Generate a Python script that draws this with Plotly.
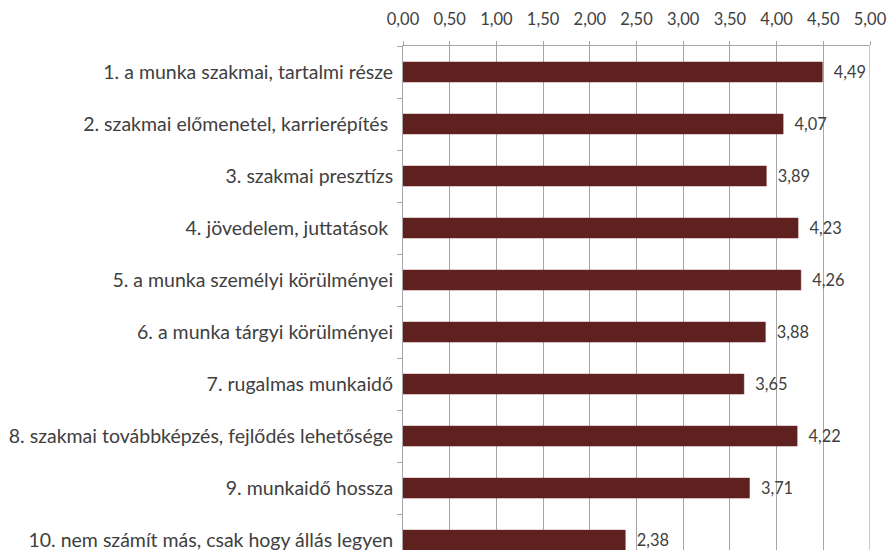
import plotly.graph_objects as go

categories = [
    "1. a munka szakmai, tartalmi része",
    "2. szakmai előmenetel, karrierépítés\u00a0",
    "3. szakmai presztízs",
    "4. jövedelem, juttatások\u00a0",
    "5. a munka személyi körülményei",
    "6. a munka tárgyi körülményei",
    "7. rugalmas munkaidő",
    "8. szakmai továbbképzés, fejlődés lehetősége",
    "9. munkaidő hossza",
    "10. nem számít más, csak hogy állás legyen",
]
values = [4.49, 4.07, 3.89, 4.23, 4.26, 3.88, 3.65, 4.22, 3.71, 2.38]
x_ticks = [0, 0.5, 1, 1.5, 2, 2.5, 3, 3.5, 4, 4.5, 5]

labels = [f"{v:.2f}".replace(".", ",") for v in values]

FONT = "Lato"
TXT = "#404040"

fig = go.Figure(go.Bar(
    x=values, y=categories, orientation="h",
    marker=dict(color="#5f2020", line=dict(color="#6e2a2a", width=0.5)),
    text=labels, texttemplate="\u00a0\u00a0%{text}",
    textposition="outside", cliponaxis=False,
    textfont=dict(family=FONT, size=18, color=TXT),
    width=0.385,
))

fig.update_layout(
    width=890, height=550,
    margin=dict(l=403, r=20, t=46, b=0, autoexpand=False),
    paper_bgcolor="white", plot_bgcolor="white",
    separators=",.",
    showlegend=False,
    font=dict(family=FONT, size=18, color=TXT),
    xaxis=dict(
        side="top", range=[0, 5], tickvals=x_ticks, tickformat=".2f",
        showgrid=True, gridcolor="#a6a6a6", gridwidth=1,
        showline=True, linecolor="#a6a6a6", linewidth=1,
        ticks="outside", ticklen=4, tickcolor="#a6a6a6",
        tickfont=dict(family=FONT, size=16.5, color=TXT),
        ticklabelstandoff=9,
        zeroline=False, automargin=False,
    ),
    yaxis=dict(
        range=[9.19, -0.5], showgrid=False,
        showline=True, linecolor="#a6a6a6", linewidth=1,
        ticks="outside", ticklen=5, tickcolor="#a6a6a6", tickson="boundaries",
        tickfont=dict(family=FONT, size=19.5, color=TXT),
        ticklabelstandoff=5, automargin=False,
    ),
    shapes=[dict(type="line", xref="x", yref="paper", x0=5, x1=5, y0=0, y1=1,
                 line=dict(color="#9dbfe6", width=1.5))],
)

fig.write_html(
    "out.html",
    config={"displayModeBar": False},
    post_script="document.body.style.margin='0';document.body.style.overflow='hidden';",
)
